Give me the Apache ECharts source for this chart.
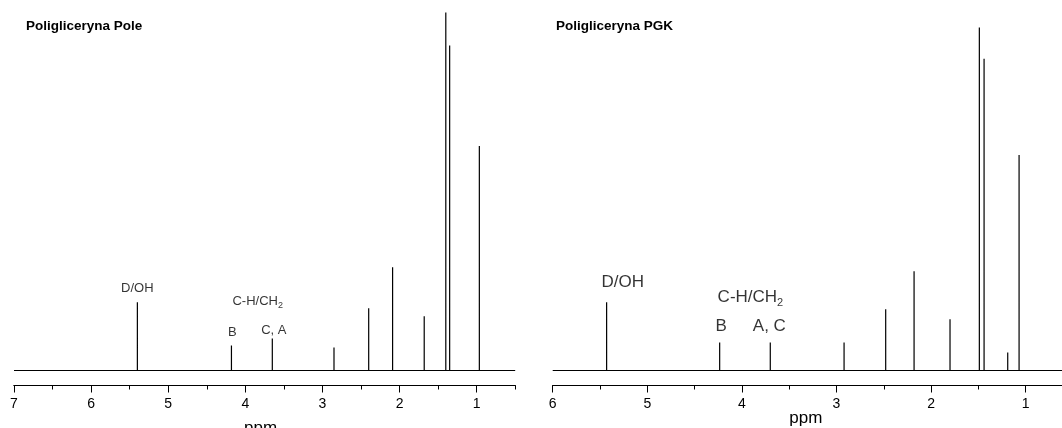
<!DOCTYPE html>
<html>
<head>
<meta charset="utf-8">
<script src="https://cdn.jsdelivr.net/npm/echarts@6/dist/echarts.min.js"></script>
<style>html,body{margin:0;padding:0;background:#fff}#c{width:1062px;height:428px}</style>
</head>
<body>
<div id="c"></div>
<script>
// Panel titles
const titles = ['Poligliceryna Pole', 'Poligliceryna PGK'];
// Axis ranges (ppm)
const leftRange = [0.5, 7];
const rightRange = [0.5, 6];
// Tick values
const leftMajorTicks = [1, 2, 3, 4, 5, 6, 7];
const leftMinorTicks = [0.5, 1.5, 2.5, 3.5, 4.5, 5.5, 6.5];
const rightMajorTicks = [1, 2, 3, 4, 5, 6];
const rightMinorTicks = [0.5, 1.5, 2.5, 3.5, 4.5, 5.5];
// Peaks (chemical shift, relative intensity)
const leftPeaksPpm = [5.40, 4.18, 3.65, 2.85, 2.40, 2.09, 1.68, 1.40, 1.35, 0.965];
const leftPeaksH   = [68, 25, 32, 23, 62, 103, 54, 357, 324, 224];
const rightPeaksPpm = [5.43, 4.235, 3.70, 2.92, 2.48, 2.18, 1.80, 1.49, 1.44, 1.19, 1.07];
const rightPeaksH   = [68, 28, 28, 28, 61, 99, 51, 342, 311, 18, 215];
// Annotations
const leftAnnotText = ['D/OH', 'C-H/CH{s|2}', 'B', 'C, A'];
const leftAnnotPpm  = [5.40, 3.84, 4.17, 3.63];
const leftAnnotY    = [81.5, 69, 38, 40];
const rightAnnotText = ['D/OH', 'C-H/CH{s|2}', 'B', 'A, C'];
const rightAnnotPpm  = [5.26, 3.91, 4.22, 3.71];
const rightAnnotY    = [87.5, 72.5, 44, 44];

const FONT = '"Liberation Sans", Arial, sans-serif';

function spectrum(range, ppm, h) {
  const d = [[range[1], 0]];
  for (let i = 0; i < ppm.length; i++) {
    d.push([ppm[i], 0], [ppm[i], h[i]], [ppm[i], 0]);
  }
  d.push([range[0], 0]);
  return d;
}
function annots(texts, xs, ys) {
  return texts.map((t, i) => ({ value: [xs[i], ys[i]], label: { formatter: t } }));
}
function majorAxis(gi, range, ticks, gap, shift) {
  return {
    type: 'value', gridIndex: gi, min: range[0], max: range[1], inverse: true,
    position: 'bottom', offset: 15,
    axisLine: { show: true, onZero: false, lineStyle: { color: '#000', width: 1 } },
    axisTick: { show: true, length: 7, customValues: ticks, lineStyle: { color: '#000', width: 1 } },
    axisLabel: { show: true, customValues: ticks, fontSize: 14, color: '#000', margin: 12, fontFamily: FONT },
    splitLine: { show: false },
    name: 'ppm', nameLocation: 'middle', nameGap: gap, nameMoveOverlap: false,
    nameTextStyle: { fontSize: 17, color: '#000', fontFamily: FONT, verticalAlign: 'top', padding: [0, shift, 0, 0] }
  };
}
function minorAxis(gi, range, ticks) {
  return {
    type: 'value', gridIndex: gi, min: range[0], max: range[1], inverse: true,
    position: 'bottom', offset: 15,
    axisLine: { show: true, onZero: false, lineStyle: { color: '#000', width: 1 } },
    axisTick: { show: true, length: 4, customValues: ticks, lineStyle: { color: '#000', width: 1 } },
    axisLabel: { show: false },
    splitLine: { show: false }
  };
}
const subRich = { s: { fontSize: 9, verticalAlign: 'bottom', padding: [9, 0, 0, 0], color: '#000', fontFamily: FONT } };

const chart = echarts.init(document.getElementById('c'), null, { renderer: 'canvas' });
chart.setOption({
  animation: false,
  backgroundColor: '#fff',
  textStyle: { fontFamily: FONT },
  title: [
    { text: titles[0], left: 26, top: 19, padding: 0, textStyle: { fontSize: 13.5, fontWeight: 'bold', color: '#000', fontFamily: FONT } },
    { text: titles[1], left: 556, top: 19, padding: 0, textStyle: { fontSize: 13.5, fontWeight: 'bold', color: '#000', fontFamily: FONT } }
  ],
  grid: [
    { left: 14, right: 546.8, top: 9.5, bottom: 57.5, containLabel: false, outerBoundsMode: 'none' },
    { left: 552.7, right: -11, top: 9.5, bottom: 57.5, containLabel: false, outerBoundsMode: 'none' }
  ],
  xAxis: [
    majorAxis(0, leftRange, leftMajorTicks, 34.5, 8),
    minorAxis(0, leftRange, leftMinorTicks),
    majorAxis(1, rightRange, rightMajorTicks, 24.5, 14),
    minorAxis(1, rightRange, rightMinorTicks)
  ],
  yAxis: [
    { type: 'value', gridIndex: 0, min: 0, max: 360, show: false },
    { type: 'value', gridIndex: 1, min: 0, max: 360, show: false }
  ],
  series: [
    { type: 'line', xAxisIndex: 0, yAxisIndex: 0, data: spectrum(leftRange, leftPeaksPpm, leftPeaksH),
      showSymbol: false, symbol: 'none', lineStyle: { color: '#000', width: 1.2 }, silent: true },
    { type: 'line', xAxisIndex: 2, yAxisIndex: 1, data: spectrum(rightRange, rightPeaksPpm, rightPeaksH),
      showSymbol: false, symbol: 'none', lineStyle: { color: '#000', width: 1.2 }, silent: true },
    { type: 'scatter', xAxisIndex: 0, yAxisIndex: 0, symbolSize: 1, itemStyle: { color: 'rgba(0,0,0,0)' },
      data: annots(leftAnnotText, leftAnnotPpm, leftAnnotY),
      label: { show: true, position: 'inside', color: '#000', fontSize: 13, fontFamily: FONT, rich: subRich } },
    { type: 'scatter', xAxisIndex: 2, yAxisIndex: 1, symbolSize: 1, itemStyle: { color: 'rgba(0,0,0,0)' },
      data: annots(rightAnnotText, rightAnnotPpm, rightAnnotY),
      label: { show: true, position: 'inside', color: '#000', fontSize: 17, fontFamily: FONT,
        rich: { s: { fontSize: 11, verticalAlign: 'bottom', padding: [11, 0, 0, 0], color: '#000', fontFamily: FONT } } } }
  ]
});
</script>
</body>
</html>
